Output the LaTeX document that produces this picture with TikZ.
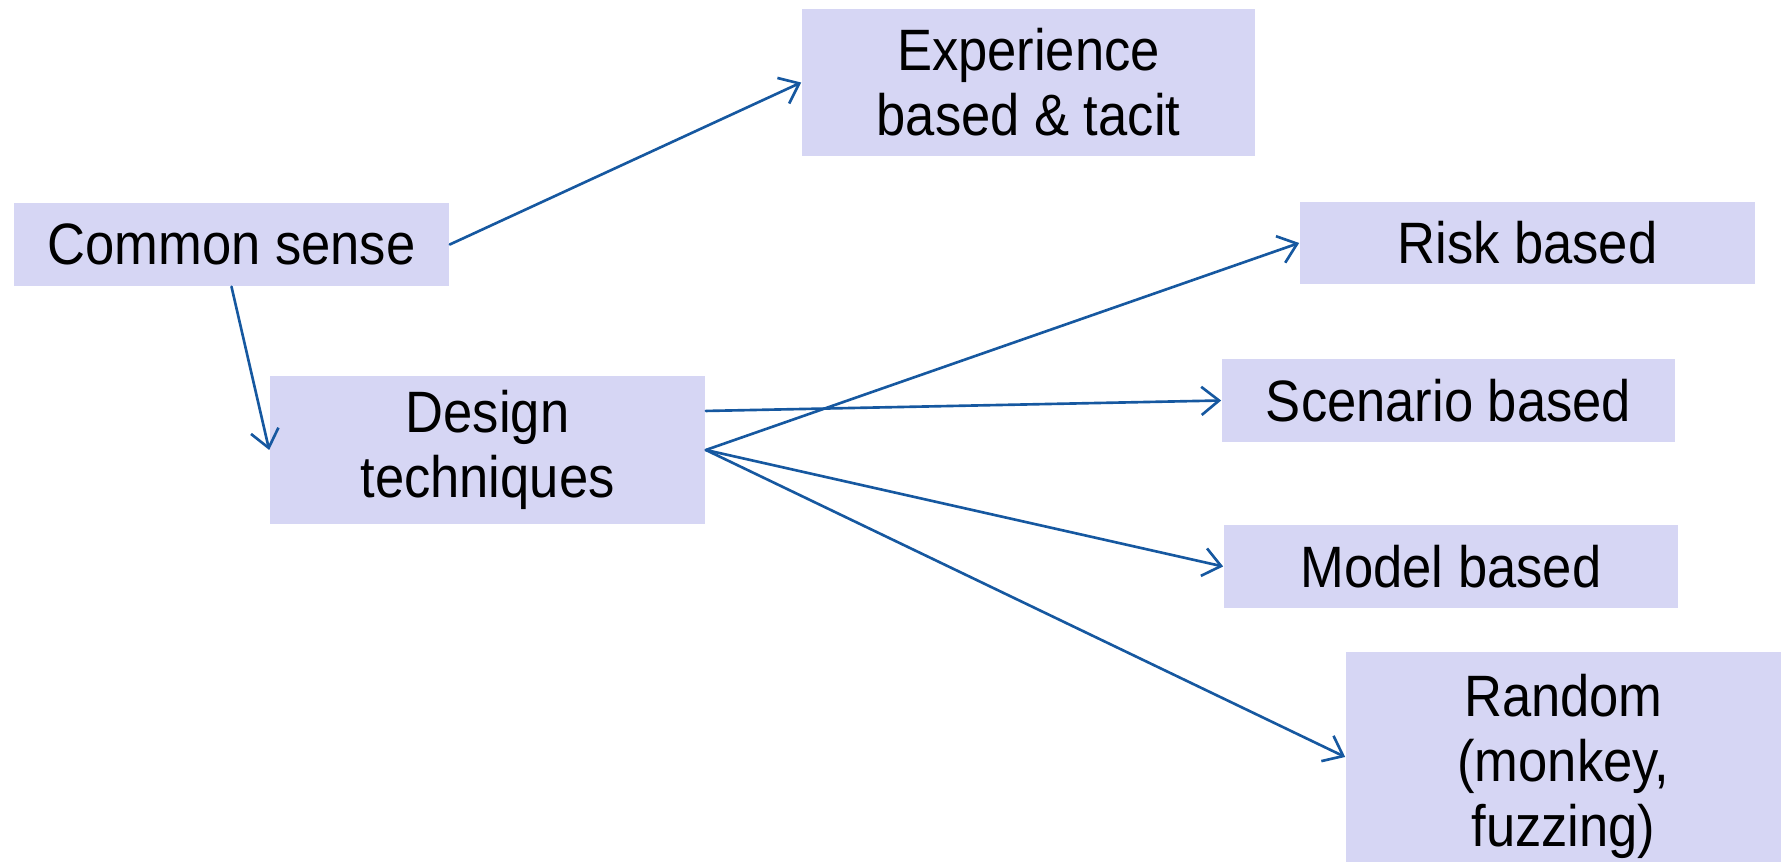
\documentclass[tikz,border=0pt]{standalone}
\usepackage{fontspec}
\setmainfont{Liberation Sans}[FakeStretch=0.9]
\usetikzlibrary{arrows.meta}
\definecolor{boxfill}{RGB}{214,214,244}
\definecolor{arrowblue}{RGB}{22,88,160}
\begin{document}
\begin{tikzpicture}[x=0.01cm, y=-0.01cm, font=\fontsize{16.6}{18.5}\selectfont, line join=round, line cap=round, >={Straight Barb[length=5pt,width=8pt]},
	box/.style={fill=boxfill, inner sep=0pt, align=center},
	link/.style={->, draw=arrowblue, line width=0.75pt}]
	\useasboundingbox (0,0) rectangle (1781,862);
	% boxes
	\node[box, minimum width=4.53cm, minimum height=1.47cm] (exp) at (1028.5,82.5) {Experience\\based \& tacit};
	\node[box, minimum width=4.35cm, minimum height=0.83cm] (common) at (231.5,244.5) {Common sense};
	\node[box, minimum width=4.35cm, minimum height=1.48cm] (design) at (487.5,450) {Design\\techniques};
	\node[box, minimum width=4.55cm, minimum height=0.82cm] (risk) at (1527.5,243) {Risk based};
	\node[box, minimum width=4.53cm, minimum height=0.83cm] (scen) at (1448.5,400.5) {Scenario based};
	\node[box, minimum width=4.54cm, minimum height=0.83cm] (model) at (1451,566.5) {Model based};
	\node[box, minimum width=4.35cm, minimum height=2.28cm] (random) at (1563.5,766) {Random\\(monkey,\\fuzzing)};
	% arrows
	\draw[link] (common.east) -- (exp.west);
	\draw[link] (common.south) -- (design.west);
	\draw[link] ([yshift=0.39cm]design.east) -- (scen.west);
	\draw[link] (design.east) -- (risk.west);
	\draw[link] (design.east) -- (model.west);
	\draw[link] (design.east) -- ([yshift=0.09cm]random.west);
\end{tikzpicture}
\end{document}
